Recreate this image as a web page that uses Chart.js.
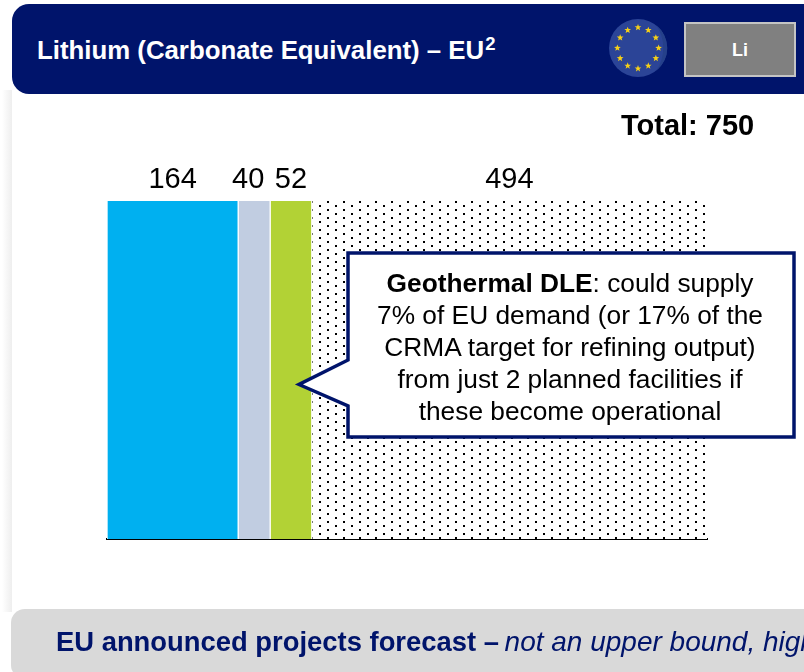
<!DOCTYPE html>
<html><head><meta charset="utf-8">
<script src="https://cdn.jsdelivr.net/npm/chart.js@4/dist/chart.umd.min.js"></script>
<style>
html,body{margin:0;padding:0;background:#fff;overflow:hidden}
#wrap{position:relative;width:804px;height:672px;overflow:hidden;font-family:"Liberation Sans",Arial,sans-serif}
#wrap>*{position:absolute}
#c{left:0;top:0}
#shadow{left:2px;top:90px;width:10px;height:522px;background:linear-gradient(to right,#fff,#eeeeee)}
#head{left:12px;top:4px;width:840px;height:90px;background:#00146b;border-radius:17px}
#title{left:37px;top:35px;font-weight:700;font-size:25.8px;line-height:30px;color:#fff;white-space:nowrap}
#title sup{font-size:18.5px;line-height:0;vertical-align:9px;margin-left:1px}
#li{left:684px;top:22px;width:108px;height:51px;background:#808080;border:2px solid #c4c4c4;color:#fff;font-weight:700;font-size:18px;line-height:52px;text-align:center}
#total{left:621px;top:109px;font-weight:700;font-size:29px;line-height:32px;color:#000;white-space:nowrap}
#call{left:0;top:0}
#note{left:350px;top:267px;width:440px;text-align:center;font-size:26.3px;line-height:32px;color:#000;white-space:nowrap}
#foot{left:11px;top:609px;width:840px;height:70px;background:#d9d9d9;border-radius:14px}
#foottxt{left:56px;top:626px;font-size:27.4px;line-height:32px;color:#00146b;white-space:nowrap}
#foottxt i{font-size:28px;margin-left:-2px}
</style></head><body>
<div id="wrap">
<canvas id="c" width="804" height="672"></canvas>
<div id="shadow"></div>
<div id="head"></div>
<div id="title">Lithium (Carbonate Equivalent) – EU<sup>2</sup></div>
<svg id="flag" style="left:605px;top:15px" width="66" height="66"></svg>
<div id="li">Li</div>
<div id="total">Total: 750</div>
<svg id="call" width="804" height="672"><path d="M348 253 H794 V437 H348 V406 L299 384.5 L348 360 Z" fill="#fff" stroke="#00146b" stroke-width="3.5"/></svg>
<div id="note"><b>Geothermal DLE</b>: could supply<br>7% of EU demand (or 17% of the<br>CRMA target for refining output)<br>from just 2 planned facilities if<br>these become operational</div>
<div id="foot"></div>
<div id="foottxt"><b>EU announced projects forecast –</b> <i>not an upper bound, high</i></div>
</div>
<script>
const categories = ["EU"];
const seriesNames = ["Segment 1", "Segment 2", "Segment 3", "Segment 4"];
const seriesValues = [164, 40, 52, 494];
const axisMax = 750;
const seriesColors = ["#00b0f0", "#c1cde1", "#b2d235"];
const labelNudge = [0, -6, 0, 0];

// EU flag
(function () {
  const NS = "http://www.w3.org/2000/svg", svg = document.getElementById("flag");
  const add = (n, a) => { const e = document.createElementNS(NS, n); for (const k in a) e.setAttribute(k, a[k]); svg.appendChild(e); };
  add("circle", { cx: 33, cy: 33, r: 29, fill: "#2b4497" });
  add("path", { d: "M51 10 A29 29 0 0 1 51 56 A40 40 0 0 0 51 10 Z", fill: "#25408a" });
  for (let i = 0; i < 12; i++) {
    const a = i * Math.PI / 6, cx = 33 + 20.6 * Math.sin(a), cy = 33 - 20.6 * Math.cos(a);
    let p = "";
    for (let j = 0; j < 10; j++) {
      const r = j % 2 ? 1.5 : 3.5, b = j * Math.PI / 5;
      p += (cx + r * Math.sin(b)).toFixed(2) + "," + (cy - r * Math.cos(b)).toFixed(2) + " ";
    }
    add("polygon", { points: p, fill: "#f7d117" });
  }
})();

function dotPattern(ctx) {
  const t = document.createElement("canvas");
  t.width = 16; t.height = 8;
  const g = t.getContext("2d");
  g.fillStyle = "#fff"; g.fillRect(0, 0, 16, 8);
  g.fillStyle = "#000";
  g.fillRect(7, 1, 2, 2);
  g.fillRect(15, 5, 1, 2);
  g.fillRect(0, 5, 1, 2);
  return ctx.createPattern(t, "repeat");
}

const ctx = document.getElementById("c").getContext("2d");
const fills = seriesColors.concat([dotPattern(ctx)]);

const valueLabels = {
  id: "valueLabels",
  afterDatasetsDraw(chart) {
    const c = chart.ctx, x = chart.scales.x, top = chart.chartArea.top;
    c.save();
    c.font = '29px "Liberation Sans", Arial, sans-serif';
    c.fillStyle = "#000"; c.textAlign = "center"; c.textBaseline = "alphabetic";
    let acc = 0;
    seriesValues.forEach((v, i) => {
      c.fillText(String(v), x.getPixelForValue(acc + v / 2) + labelNudge[i], top - 13);
      acc += v;
    });
    c.restore();
  }
};

new Chart(ctx, {
  type: "bar",
  data: {
    labels: categories,
    datasets: seriesValues.map((v, i) => ({
      label: seriesNames[i],
      data: [v],
      backgroundColor: fills[i],
      borderColor: "#fff",
      borderWidth: { left: 1, right: 1, top: 0, bottom: 0 },
      borderSkipped: false,
      barPercentage: 1,
      categoryPercentage: 1
    }))
  },
  options: {
    indexAxis: "y",
    responsive: false,
    animation: false,
    layout: { padding: { left: 107, right: 97, top: 201, bottom: 133 } },
    plugins: { legend: { display: false }, tooltip: { enabled: false }, title: { display: false } },
    scales: {
      x: {
        stacked: true, min: 0, max: axisMax,
        grid: { display: false, drawTicks: false },
        border: { display: true, color: "#000", width: 2 },
        ticks: { display: false }
      },
      y: {
        stacked: true,
        grid: { display: false, drawTicks: false },
        border: { display: false },
        ticks: { display: false }
      }
    }
  },
  plugins: [valueLabels]
});
</script>
</body></html>
